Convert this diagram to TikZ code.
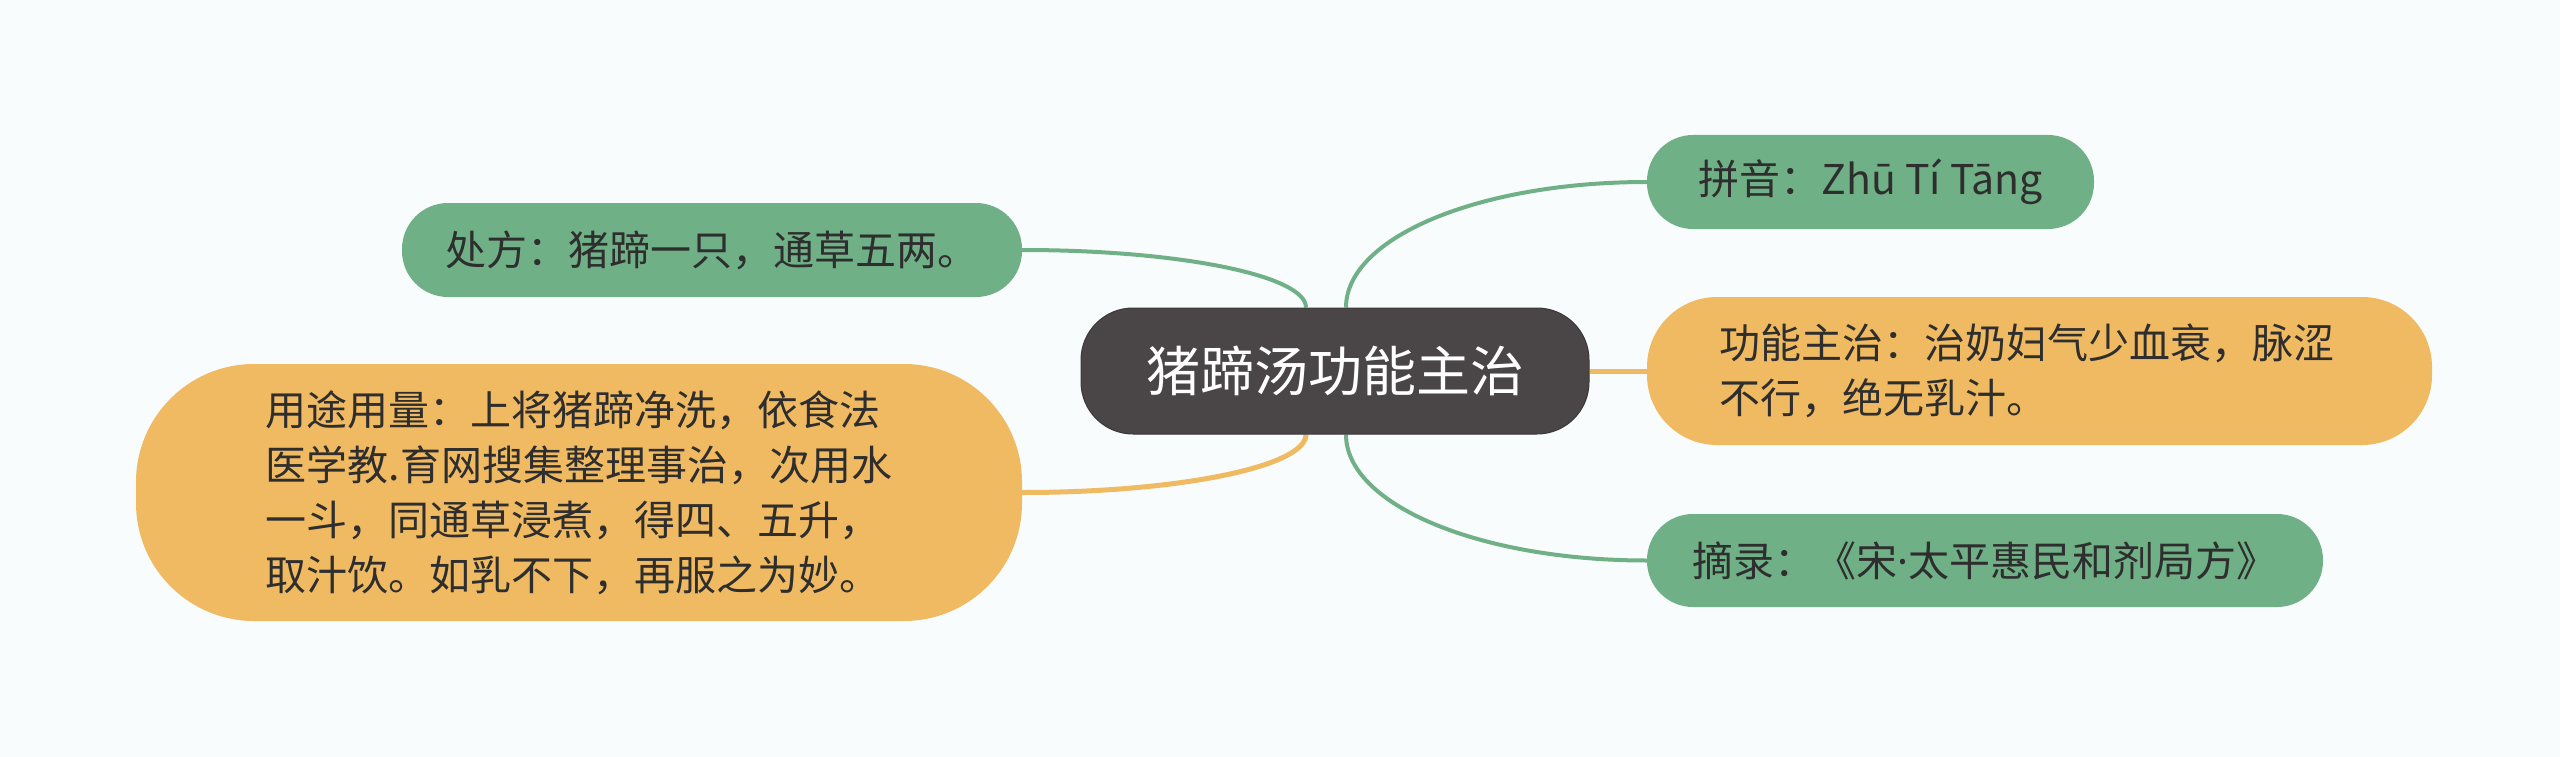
\documentclass[tikz,border=0pt]{standalone}
\usepackage{fontspec}
\setmainfont{Noto Sans CJK SC}
\newfontfamily\latinf{Noto Sans}
\usetikzlibrary{calc}
\pgfdeclarelayer{bglayer}
\pgfdeclarelayer{edgelayer}
\pgfsetlayers{bglayer,edgelayer,main}
\definecolor{bgc}{HTML}{F8FCFC}
\definecolor{greenc}{HTML}{70B087}
\definecolor{orangec}{HTML}{F0BA62}
\definecolor{darkc}{HTML}{4A4546}
\definecolor{txtc}{HTML}{2E2E2E}
\tikzset{
  topic/.style={rectangle, fill=darkc, draw=darkc!80!black, line width=1pt, rounded corners=52pt,
    minimum width=508pt, minimum height=126pt, inner sep=0pt, text=white,
    font=\fontsize{54}{60}\selectfont},
  gbox/.style={rectangle, fill=greenc, rounded corners=46pt, inner sep=0pt,
    text=txtc, font=\fontsize{41}{55}\selectfont, align=left},
  obox/.style={rectangle, fill=orangec, inner sep=0pt,
    text=txtc, font=\fontsize{41}{55}\selectfont, align=left},
  gline/.style={draw=greenc, line width=4pt},
  oline/.style={draw=orangec, line width=5pt},
}
\begin{document}
\begin{tikzpicture}[x=1pt,y=-1pt]
\begin{pgfonlayer}{bglayer}
\fill[bgc] (0,0) rectangle (2560,757);
\end{pgfonlayer}
\useasboundingbox (0,0) rectangle (2560,757);

\node[topic] (c) at (1335,371) {猪蹄汤功能主治};
\node[gbox, minimum width=447pt, minimum height=94pt] (py) at (1870.5,182) {拼音：Zhū Tí Tāng};
\node[obox, rounded corners=70pt, minimum width=785pt, minimum height=148pt, text width=640pt] (gn) at (2039.5,371) {功能主治：治奶妇气少血衰，脉涩\\不行，绝无乳汁。};
\node[gbox, minimum width=676pt, minimum height=93pt] (zl) at (1985,560.5) {摘录：《宋{\latinf ·}太平惠民和剂局方》};
\node[gbox, minimum width=620pt, minimum height=94pt] (cf) at (712,250) {处方：猪蹄一只，通草五两。};
\node[obox, rounded corners=118pt, minimum width=886pt, minimum height=257pt] (yt) at (579,492.5) {用途用量：上将猪蹄净洗，依食法\\医学教.育网搜集整理事治，次用水\\一斗，同通草浸煮，得四、五升，\\取汁饮。如乳不下，再服之为妙。};

\begin{pgfonlayer}{edgelayer}
\path[gline] ($(c.north)+(11,0)$) .. controls ($(c.north)+(11,-70)$) and ($(py.west)+(-168,0)$) .. (py.west);
\path[gline] ($(c.north)+(-29,0)$) .. controls ($(c.north)+(-29,-32)$) and ($(cf.east)+(157,0)$) .. (cf.east);
\path[oline] ($(c.south)+(-29,0)$) .. controls ($(c.south)+(-29,32)$) and ($(yt.east)+(157,0)$) .. (yt.east);
\path[gline] ($(c.south)+(11,0)$) .. controls ($(c.south)+(11,70)$) and ($(zl.west)+(-168,0)$) .. (zl.west);
\path[oline] (c.east) -- (gn.west);
\end{pgfonlayer}
\end{tikzpicture}
\end{document}
